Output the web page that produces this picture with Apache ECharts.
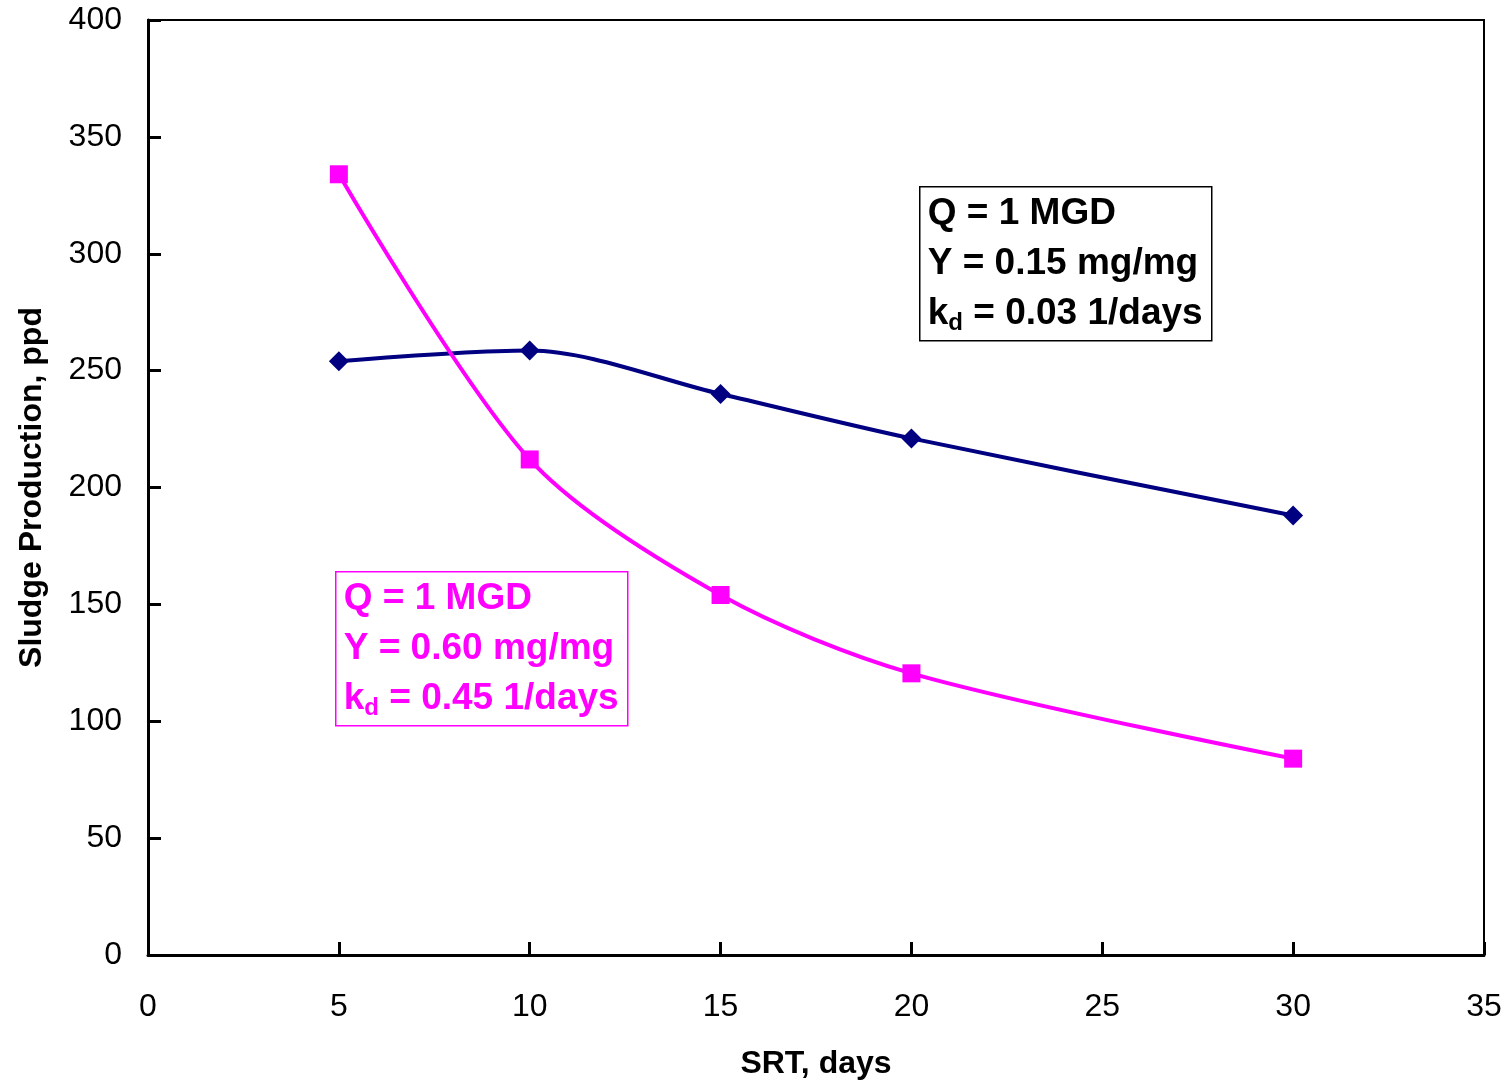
<!DOCTYPE html>
<html><head><meta charset="utf-8">
<script src="https://cdn.jsdelivr.net/npm/echarts@6/dist/echarts.min.js"></script>
<style>html,body{margin:0;padding:0;background:#fff}#c{width:1512px;height:1086px}</style>
</head><body><div id="c"></div>
<script>
const srt = [5, 10, 15, 20, 30];
const sludgeLowY = [254, 258.6, 240, 221, 188];
const sludgeHighY = [334, 212, 154, 120.5, 84];
const xTicks = [0, 35, 5];
const yTicks = [0, 400, 50];
const boxBlue = ['Q = 1 MGD', 'Y = 0.15 mg/mg', 'k', 'd', ' = 0.03 1/days'];
const boxPink = ['Q = 1 MGD', 'Y = 0.60 mg/mg', 'k', 'd', ' = 0.45 1/days'];

const chart = echarts.init(document.getElementById('c'), null, {renderer: 'canvas'});
const FONT = 'Liberation Sans, Arial, sans-serif';
const pair = (xs, ys) => xs.map((x, i) => [x, ys[i]]);

function box(x, y, w, h, color, t) {
  return {
    type: 'group', left: x, top: y,
    children: [
      {type: 'rect', shape: {x: 0, y: 0, width: w, height: h}, style: {fill: '#fff', stroke: color, lineWidth: 1.5}},
      {type: 'text', x: 8, y: 2, style: {
        text: '{a|' + t[0] + '}\n{a|' + t[1] + '}\n{a|' + t[2] + '}{s|' + t[3] + '}{a|' + t[4] + '}',
        rich: {
          a: {fontSize: 37, fontWeight: 'bold', fontFamily: FONT, fill: color, lineHeight: 50, verticalAlign: 'middle'},
          s: {fontSize: 24, fontWeight: 'bold', fontFamily: FONT, fill: color, lineHeight: 50, padding: [20, 0, 0, 0], verticalAlign: 'middle'}
        }
      }}
    ]
  };
}

chart.setOption({
  animation: false,
  backgroundColor: '#fff',
  grid: {left: 148, right: 28, top: 20, bottom: 131, show: true, borderColor: '#000', borderWidth: 2, backgroundColor: 'transparent', containLabel: false, outerBoundsMode: 'none'},
  xAxis: {
    type: 'value', min: xTicks[0], max: xTicks[1], interval: xTicks[2],
    name: 'SRT, days', nameLocation: 'middle', nameGap: 93,
    nameTextStyle: {fontSize: 32, fontWeight: 'bold', fontFamily: FONT, color: '#000'},
    axisLine: {show: true, onZero: false, lineStyle: {color: '#000', width: 3}},
    axisTick: {show: true, inside: true, length: 13, lineStyle: {color: '#000', width: 3}},
    axisLabel: {fontSize: 32, fontFamily: FONT, color: '#000', margin: 36},
    splitLine: {show: false}
  },
  yAxis: {
    type: 'value', min: yTicks[0], max: yTicks[1], interval: yTicks[2],
    name: 'Sludge Production, ppd', nameLocation: 'middle', nameGap: 100, nameRotate: 90,
    nameTextStyle: {fontSize: 32, fontWeight: 'bold', fontFamily: FONT, color: '#000'},
    axisLine: {show: true, onZero: false, lineStyle: {color: '#000', width: 3}},
    axisTick: {show: true, inside: true, length: 13, lineStyle: {color: '#000', width: 3}},
    axisLabel: {fontSize: 32, fontFamily: FONT, color: '#000', margin: 26},
    splitLine: {show: false}
  },
  series: [
    {
      type: 'line', data: pair(srt, sludgeLowY), smooth: 0.3,
      symbol: 'diamond', symbolSize: 20,
      lineStyle: {color: '#000080', width: 4},
      itemStyle: {color: '#000080'}
    },
    {
      type: 'line', data: pair(srt, sludgeHighY), smooth: 0.3,
      symbol: 'rect', symbolSize: 18,
      lineStyle: {color: '#ff00ff', width: 4},
      itemStyle: {color: '#ff00ff'}
    }
  ],
  graphic: [
    box(919, 186, 292, 154, '#000', boxBlue),
    box(335, 571, 292, 154, '#ff00ff', boxPink)
  ]
});
</script></body></html>
